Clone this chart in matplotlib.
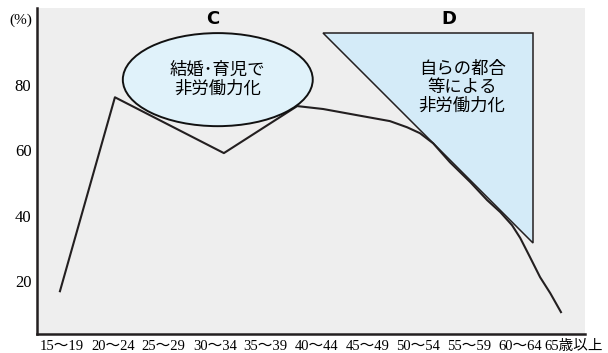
import matplotlib.pyplot as plt
from matplotlib.patches import Ellipse, Polygon

plt.rcParams['font.family'] = ['Liberation Serif', 'Noto Sans CJK JP']

# age groups along the x axis
ages = ['15～19', '20～24', '25～29', '30～34', '35～39', '40～44',
        '45～49', '50～54', '55～59', '60～64', '65歳以上']
age_pos = [0, 1, 2, 3, 4, 5, 6, 7, 8, 9, 10.04]
yticks = [20, 40, 60, 80]

# schematic participation-rate curve (x in age-group units, y in %)
curve_x = [-0.04, 1.04, 3.18, 4.62, 5.13, 5.80, 6.44, 6.78, 7.03, 7.29,
           7.62, 8.02, 8.35, 8.61, 8.84, 9.00, 9.19, 9.39, 9.59, 9.80]
curve_y = [16.9, 76.3, 59.2, 73.6, 72.7, 70.8, 69.0, 67.1, 65.3, 62.2,
           56.4, 50.3, 44.8, 41.1, 37.1, 33.2, 27.4, 21.2, 16.3, 10.5]

# bubble C: center, width, height
c_center = (3.06, 81.7)
c_size = (3.73, 28.5)
c_text = '結婚･育児で\n非労働力化'

# triangle D corners
d_x = [5.13, 9.25, 9.25]
d_y = [95.9, 95.9, 31.6]
d_text = '自らの都合\n等による\n非労働力化'

fig = plt.figure(figsize=(6.08, 3.53), dpi=100)
ax = fig.add_axes([0.0609, 0.0538, 0.9011, 0.9232])
ax.set_facecolor('#eeeeee')

ax.add_patch(Polygon(list(zip(d_x, d_y)), closed=True, facecolor='#d4ebf8',
                     edgecolor='#231f20', lw=1.1, zorder=2))
ax.plot(curve_x, curve_y, color='#231f20', lw=1.5, zorder=3)
ax.add_patch(Ellipse(c_center, c_size[0], c_size[1], facecolor='#e0f2fa',
                     edgecolor='#111111', lw=1.4, zorder=4))

ax.text(c_center[0], c_center[1], c_text, ha='center', va='center',
        fontsize=12.5, family=['Noto Sans CJK JP'], linespacing=1.05, zorder=5)
ax.text(7.86, 79.4, d_text, ha='center', va='center',
        fontsize=12.5, family=['Noto Sans CJK JP'], linespacing=1.05, zorder=5)

ax.text(2.97, 100.3, 'C', ha='center', va='center', fontsize=13,
        fontweight='bold', family=['DejaVu Sans'])
ax.text(7.59, 100.3, 'D', ha='center', va='center', fontsize=13,
        fontweight='bold', family=['DejaVu Sans'])

ax.set_xlim(-0.49, 10.27)
ax.set_ylim(3.8, 103.6)
ax.set_xticks(age_pos)
ax.set_xticklabels(ages, fontsize=10.5)
ax.set_yticks(yticks)
ax.set_yticklabels([str(v) for v in yticks], fontsize=12)
ax.tick_params(length=0, pad=4)

for side in ['top', 'right']:
    ax.spines[side].set_visible(False)
for side in ['left', 'bottom']:
    ax.spines[side].set_linewidth(1.8)
    ax.spines[side].set_color('#231f20')

fig.text(9 / 608, 1 - 20 / 353, '(%)', ha='left', va='center', fontsize=11)

fig.savefig('out.png', dpi=100)
